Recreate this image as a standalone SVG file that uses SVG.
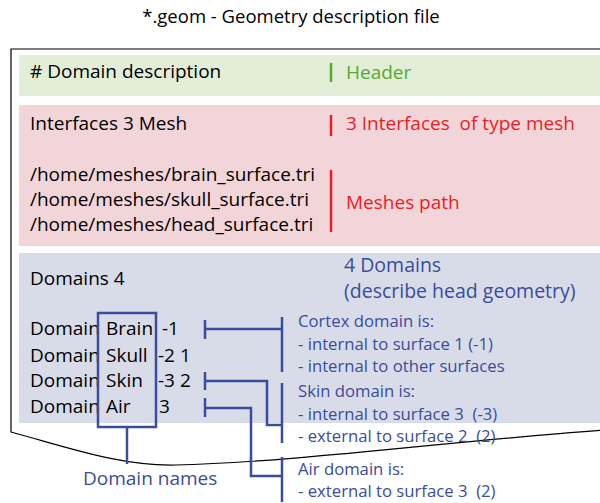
<svg xmlns="http://www.w3.org/2000/svg" width="600" height="503" viewBox="0 0 600 503">
<style>
text{font-family:"Open Sans","Liberation Sans",sans-serif;font-size:19px;fill:#000}
.blue{fill:#3a4c9c}
.sm{font-size:16.7px}
.green{fill:#55aa33}
.red{fill:#ee1c25}
.ln{stroke:#3a4c9c;stroke-width:2.5;fill:none}
</style>
<rect width="600" height="503" fill="#fff"/>
<text x="291" y="23" text-anchor="middle" style="font-size:18.5px">*.geom - Geometry description file</text>
<path id="frame" d="M605,49 H11 V432 C70,448 120,466 175,465 C300,462 460,440 605,430" fill="none" stroke="#000" stroke-width="1.2"/>
<g id="header">
<rect x="19" y="55" width="590" height="41" fill="#e2eed7"/>
<text x="30" y="78">#&#160;Domain description</text>
<line x1="331" y1="63" x2="331" y2="82" stroke="#55aa33" stroke-width="2.5"/>
<text x="346" y="79" class="green">Header</text>
</g>
<g id="interfaces">
<rect x="19" y="105" width="590" height="141" fill="#f2d5d8"/>
<text x="30" y="130">Interfaces 3 Mesh</text>
<line x1="331" y1="115" x2="331" y2="136" stroke="#ee1c25" stroke-width="2.5"/>
<text x="346" y="130" class="red" xml:space="preserve">3 Interfaces  of type mesh</text>
<text x="30" y="181">/home/meshes/brain_surface.tri</text>
<text x="30" y="206">/home/meshes/skull_surface.tri</text>
<text x="30" y="231">/home/meshes/head_surface.tri</text>
<line x1="331" y1="170" x2="331" y2="232" stroke="#ee1c25" stroke-width="2.5"/>
<text x="346" y="209" class="red">Meshes path</text>
</g>
<g id="domains">
<rect x="19" y="253" width="590" height="170" fill="#d8dce9"/>
<text x="30" y="285">Domains 4</text>
<text x="344" y="272" class="blue" style="font-size:19.5px">4 Domains</text>
<text x="344" y="298" class="blue" style="font-size:19.5px">(describe head geometry)</text>
<text x="30" y="335">Domain<tspan x="106">Brain</tspan><tspan x="162">-1</tspan></text>
<text x="30" y="362">Domain<tspan x="106">Skull</tspan><tspan x="158">-2 1</tspan></text>
<text x="30" y="387">Domain<tspan x="106">Skin</tspan><tspan x="158">-3 2</tspan></text>
<text x="30" y="413">Domain<tspan x="106">Air</tspan><tspan x="159">3</tspan></text>
</g>
<g id="domain-names">
<rect x="98" y="313" width="58" height="114" class="ln"/>
<text x="83" y="485" class="blue">Domain names</text>
</g>
<g id="cortex-note">
<text x="298" y="327" class="blue sm">Cortex domain is:</text>
<text x="298" y="350" class="blue sm">- internal to surface 1 (-1)</text>
<text x="298" y="372" class="blue sm">- internal to other surfaces</text>
</g>
<g id="skin-note">
<text x="298" y="397" class="blue sm">Skin domain is:</text>
<text x="298" y="420" class="blue sm" xml:space="preserve">- internal to surface 3  (-3)</text>
<text x="298" y="442" class="blue sm" xml:space="preserve">- external to surface 2  (2)</text>
</g>
<g id="air-note">
<text x="298" y="475" class="blue sm">Air domain is:</text>
<text x="298" y="497" class="blue sm" xml:space="preserve">- external to surface 3  (2)</text>
</g>
<g id="connectors">
<line x1="127" y1="427" x2="127" y2="464" class="ln"/>
<path d="M205,320 V339 M205,329 H282 M282,317 V372" class="ln"/>
<path d="M205,372 V390 M205,381 H267 V425 H282 M282,383 V443" class="ln"/>
<path d="M205,398 V417 M205,408 H251 V476 H282 M282,457 V502" class="ln"/>
</g>
</svg>
